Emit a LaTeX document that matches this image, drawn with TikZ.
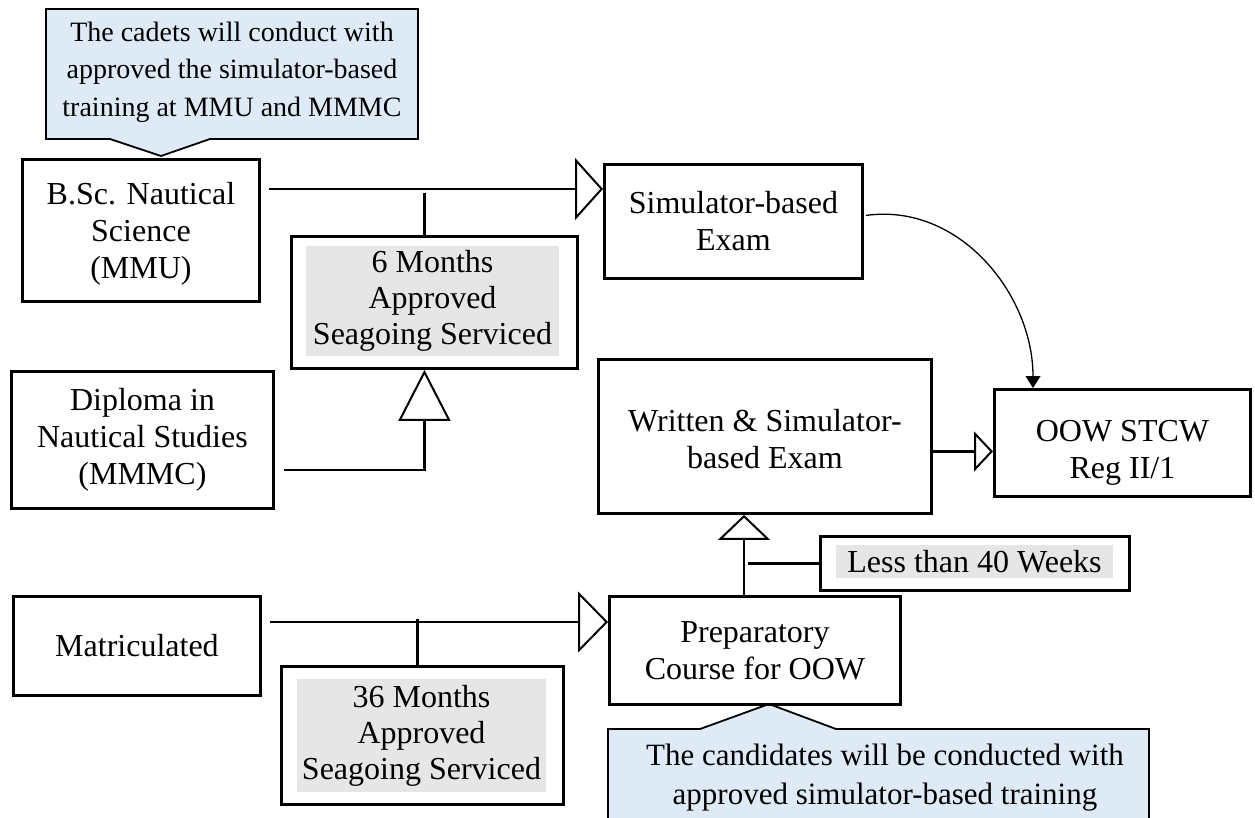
\documentclass[tikz,border=0pt]{standalone}
\usepackage{fontspec}
\setmainfont{Liberation Serif}
\usetikzlibrary{arrows.meta,calc}
\definecolor{noteblue}{HTML}{DEEBF7}
\definecolor{shadegray}{HTML}{E6E6E6}
\newcommand\txtbig{\fontsize{32}{37}\selectfont}
\newcommand\txtshade{\fontsize{32}{36}\selectfont}
\newcommand\txtnote{\fontsize{28}{37.5}\selectfont}
\newcommand\txtnoteb{\fontsize{31}{39}\selectfont}
\newcommand\lowertext[2]{\raisebox{-#1}[\height][\depth]{\begin{tabular}{@{}c@{}}#2\end{tabular}}}
\begin{document}
\begin{tikzpicture}[x=1pt,y=-1pt,
  frame/.style={draw, line width=2.9pt, inner sep=0pt, align=center, font=\txtbig, anchor=north west},
  shadetext/.style={fill=shadegray, inner sep=0pt, align=center, font=\txtshade},
  notetext/.style={inner sep=0pt, align=center},
  noteshape/.style={fill=noteblue, draw, line width=1.8pt, line join=miter},
  conn/.style={line width=2.8pt},
  opentip/.style 2 args={-{Triangle[open, line width=2pt, length=#1, width=#2]}},
  curvearrow/.style={line width=1.3pt, -{Triangle[length=12pt, width=15pt]}}]
\useasboundingbox (0,0) rectangle (1255,818);
\clip (0,0) rectangle (1255,818);

% top callout
\path[noteshape] (46,9) -- (418,9) -- (418,139) -- (210,139) -- (161,156) -- (110,139) -- (46,139) -- cycle;
\node[notetext, font=\txtnote] (cadetsnote) at (232,72) {The cadets will conduct with\\approved the simulator-based\\training at MMU and MMMC};

% bottom callout
\path[noteshape] (608,729) -- (700,729) -- (769,704) -- (836,729) -- (1149,729) -- (1149,850) -- (608,850) -- cycle;
\node[notetext, font=\txtnoteb] (candnote) at (885,778) {The candidates will be conducted with\\approved simulator-based training};

% boxes
\node[frame, minimum width=237, minimum height=142] (bsc) at (21,158) {\lowertext{4pt}{B.Sc. Nautical\\Science\\(MMU)}};
\node[frame, minimum width=258, minimum height=114] (sim) at (603,163) {Simulator-based\\Exam};
\node[frame, minimum width=286, minimum height=132] (six) at (290,235) {};
\node[shadetext, minimum width=253, minimum height=110] (sixtext) at (432.5,301) {6 Months\\Approved\\Seagoing Serviced};
\node[frame, minimum width=262, minimum height=137] (dip) at (10,370) {Diploma in\\Nautical Studies\\(MMMC)};
\node[frame, minimum width=333, minimum height=154] (written) at (597,358) {\lowertext{6pt}{Written \& Simulator-\\based Exam}};
\node[frame, minimum width=256, minimum height=107] (oow) at (993,388) {\lowertext{10pt}{OOW STCW\\Reg II/1}};
\node[frame, minimum width=309, minimum height=54] (less) at (819,535) {};
\node[shadetext, minimum width=277, minimum height=33] (lesstext) at (974.5,561.5) {Less than 40 Weeks};
\node[frame, minimum width=247, minimum height=99] (mat) at (12,595) {Matriculated};
\node[frame, minimum width=291, minimum height=108] (prep) at (608,595) {Preparatory\\Course for OOW};
\node[frame, minimum width=282, minimum height=138] (m36) at (280,665) {};
\node[shadetext, minimum width=249, minimum height=113] (m36text) at (421.5,735.5) {36 Months\\Approved\\Seagoing Serviced};

% connectors
\coordinate (bscout) at ($(bsc.north east)+(8,31)$);
\draw[conn, opentip={28pt}{62pt}] (bscout) -- (sim.west |- bscout);
\draw[conn] ([xshift=-10pt]six.north) -- ++(0,-42);

\coordinate (dipout) at ($(dip.north east)+(9,100)$);
\draw[conn, opentip={51pt}{52pt}] (dipout) -| ([xshift=-10pt]six.south);

\draw[curvearrow] ($(sim.east)+(2,-6)$) to[out=8,in=90] ($(oow.north west)+(40,0)$);

\coordinate (wrout) at ($(written.east)+(0,15)$);
\draw[conn, opentip={19pt}{40pt}] (wrout) -- (oow.west |- wrout);

\coordinate (prepup) at ($(prep.north west)+(136,0)$);
\draw[conn, opentip={25pt}{52pt}] (prepup) -- (written.south -| prepup);
\draw[conn] ([xshift=4pt]prepup |- less.west) -- (less.west);

\coordinate (matout) at ($(mat.north east)+(8,27)$);
\draw[conn, opentip={30pt}{61pt}] (matout) -- (prep.west |- matout);
\draw[conn] ([xshift=-5pt]m36.north) -- ++(0,-46);
\end{tikzpicture}
\end{document}
